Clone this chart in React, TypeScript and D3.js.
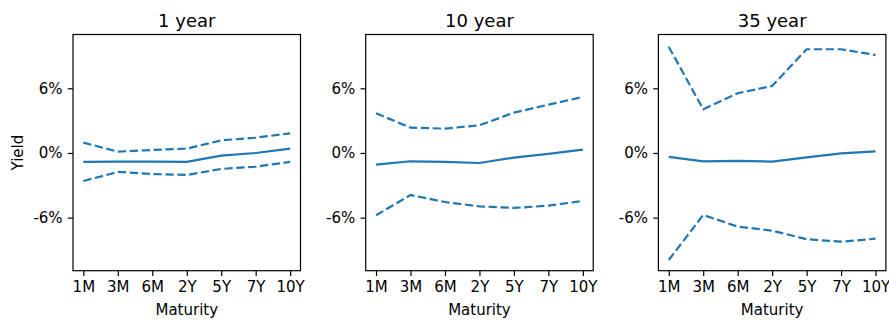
import React, { useRef, useEffect } from 'react';
import * as d3 from 'd3';

const maturities = ['1M', '3M', '6M', '2Y', '5Y', '7Y', '10Y'];
const horizons = ['1 year', '10 year', '35 year'];
const yTicks = [-6, 0, 6];

// median and the dashed bands, in percent
const median1 = [-0.83, -0.8, -0.8, -0.82, -0.25, 0.0, 0.4];
const upper1 = [0.96, 0.12, 0.28, 0.4, 1.17, 1.42, 1.82];
const lower1 = [-2.6, -1.76, -1.95, -2.04, -1.48, -1.27, -0.83];

const median10 = [-1.08, -0.77, -0.83, -0.93, -0.43, -0.09, 0.31];
const upper10 = [3.68, 2.35, 2.26, 2.57, 3.74, 4.48, 5.2];
const lower10 = [-5.78, -3.9, -4.55, -4.95, -5.1, -4.89, -4.45];

const median35 = [-0.37, -0.77, -0.74, -0.8, -0.4, -0.03, 0.15];
const upper35 = [9.86, 4.05, 5.54, 6.22, 9.62, 9.62, 9.09];
const lower35 = [-9.93, -5.75, -6.83, -7.2, -8.0, -8.23, -7.95];

const panels = [
  { title: horizons[0], median: median1, upper: upper1, lower: lower1 },
  { title: horizons[1], median: median10, upper: upper10, lower: lower10 },
  { title: horizons[2], median: median35, upper: upper35, lower: lower35 }
];

const W = 889;
const H = 323;
const lefts = [73, 365.7, 658.4];
const pw = 227.5;
const top = 34.5;
const bottom = 270.7;
const blue = '#1f77b4';
const font = 'DejaVu Sans, sans-serif';
const tickFont = 15;

const App = () => {
  const svgRef = useRef<SVGSVGElement>(null);

  useEffect(() => {
    document.body.style.margin = '0';
    const svg = d3.select(svgRef.current);
    svg.selectAll('*').remove();

    const yScale = d3.scaleLinear().domain([-10.92, 10.99]).range([bottom, top]);

    panels.forEach((p, i) => {
      const x0 = lefts[i];
      const xScale = d3
        .scalePoint<string>()
        .domain(maturities)
        .range([x0 + pw * (0.3 / 6.6), x0 + pw * (6.3 / 6.6)]);

      const g = svg.append('g');

      const lineGen = d3
        .line<number>()
        .x((d, k) => xScale(maturities[k]) as number)
        .y(d => yScale(d));

      const series = [
        { values: p.median, dash: null },
        { values: p.upper, dash: '8.3,3.6' },
        { values: p.lower, dash: '8.3,3.6' }
      ];
      series.forEach(s => {
        g.append('path')
          .datum(s.values)
          .attr('d', lineGen)
          .attr('fill', 'none')
          .attr('stroke', blue)
          .attr('stroke-width', 2.2)
          .attr('stroke-dasharray', s.dash);
      });

      // frame
      g.append('rect')
        .attr('x', x0)
        .attr('y', top)
        .attr('width', pw)
        .attr('height', bottom - top)
        .attr('fill', 'none')
        .attr('stroke', '#000')
        .attr('stroke-width', 1.2);

      // x axis
      const xAxis = d3.axisBottom(xScale).tickSize(5.2).tickPadding(5.2);
      const gx = g
        .append('g')
        .attr('transform', `translate(0, ${bottom})`)
        .call(xAxis);
      gx.select('.domain').remove();
      gx.selectAll('line').attr('stroke', '#000').attr('stroke-width', 1.2);
      gx.selectAll('text')
        .attr('font-family', font)
        .attr('font-size', tickFont)
        .attr('fill', '#000');

      // y axis
      const yAxis = d3
        .axisLeft(yScale)
        .tickValues(yTicks)
        .tickFormat(d => `${d}%`)
        .tickSize(5.2)
        .tickPadding(5.2);
      const gy = g
        .append('g')
        .attr('transform', `translate(${x0}, 0)`)
        .call(yAxis);
      gy.select('.domain').remove();
      gy.selectAll('line').attr('stroke', '#000').attr('stroke-width', 1.2);
      gy.selectAll('text')
        .attr('font-family', font)
        .attr('font-size', tickFont)
        .attr('fill', '#000');

      g.append('text')
        .attr('x', x0 + pw / 2)
        .attr('y', 26.7)
        .attr('text-anchor', 'middle')
        .attr('font-family', font)
        .attr('font-size', 18)
        .text(p.title);

      g.append('text')
        .attr('x', x0 + pw / 2)
        .attr('y', 314.5)
        .attr('text-anchor', 'middle')
        .attr('font-family', font)
        .attr('font-size', tickFont)
        .text('Maturity');
    });

    svg
      .append('text')
      .attr('transform', `translate(23.3, ${(top + bottom) / 2}) rotate(-90)`)
      .attr('text-anchor', 'middle')
      .attr('font-family', font)
      .attr('font-size', tickFont)
      .text('Yield');
  }, []);

  return (
    <svg
      ref={svgRef}
      width={W}
      height={H}
      style={{ display: 'block', background: '#fff' }}
    />
  );
};

export default App;
